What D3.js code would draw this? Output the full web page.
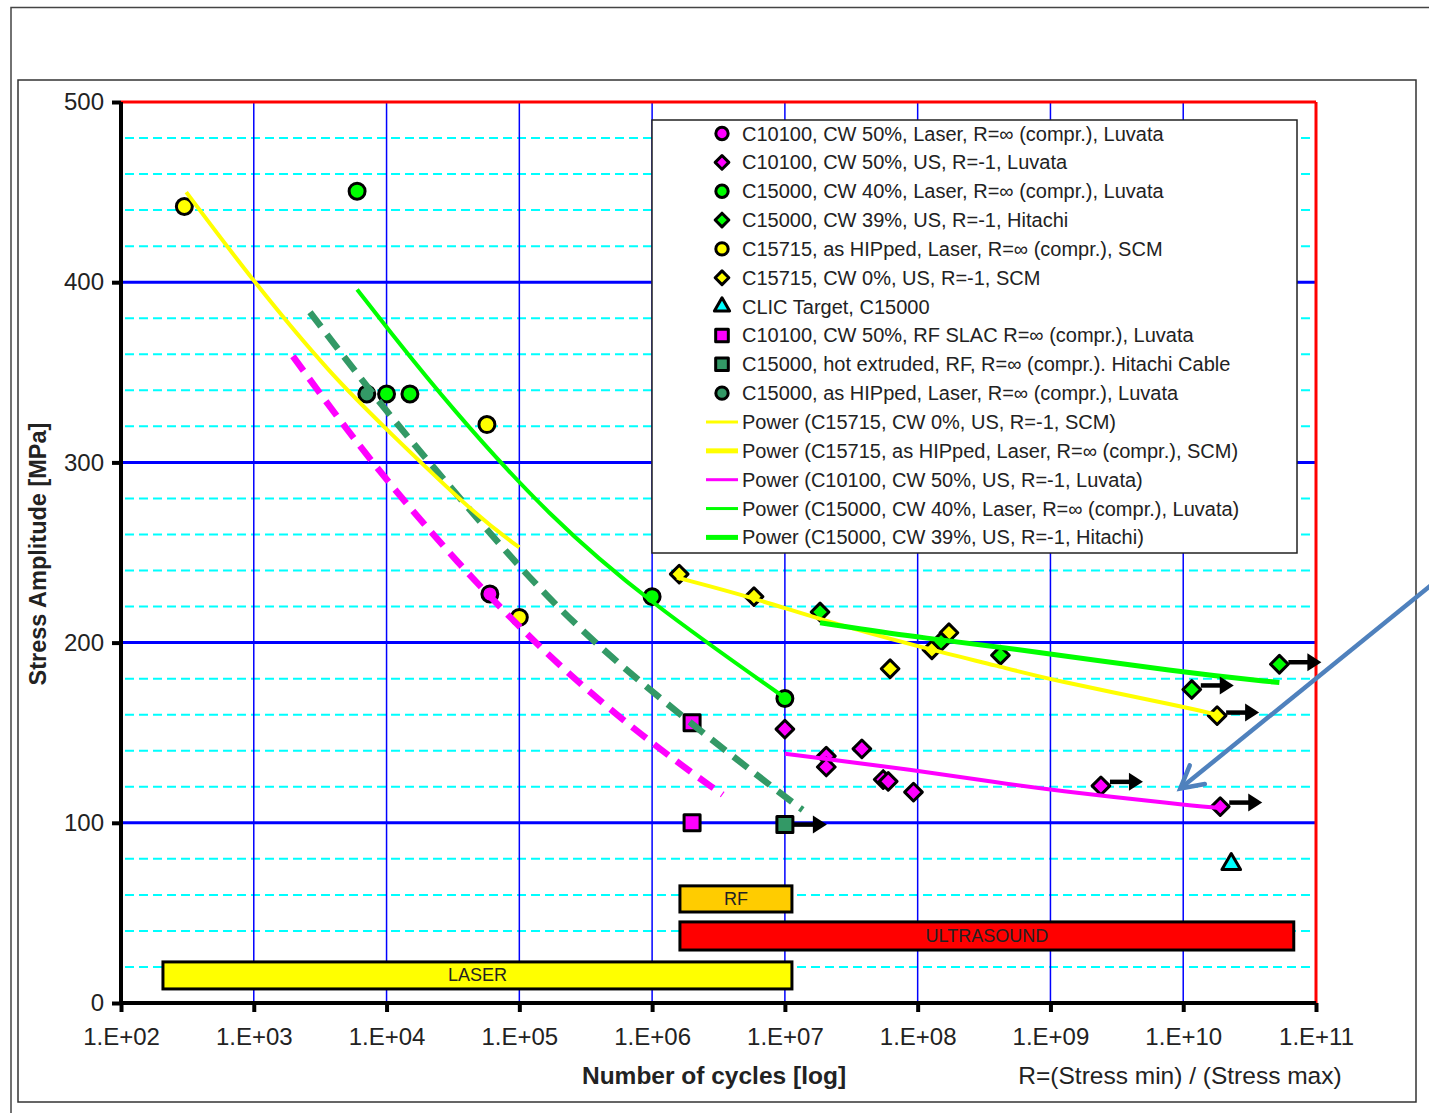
<!DOCTYPE html>
<html>
<head>
<meta charset="utf-8">
<script src="https://cdn.jsdelivr.net/npm/d3@7"></script>
<style>
  body { margin: 0; background: #fff; }
  svg text { font-family: "Liberation Sans", Arial, sans-serif; fill: #222; }
</style>
</head>
<body>
<div id="chart"></div>
<script>
// ---- data ----
const decades = [2, 3, 4, 5, 6, 7, 8, 9, 10, 11];
const stressTicks = [0, 100, 200, 300, 400, 500];
const minorTicks = d3.range(20, 500, 20).filter(v => v % 100 != 0);

// [cycles, stress MPa]
const c10100Laser = [[6e4, 227]];
const c10100US = [[1e7, 152], [2.05e7, 137], [2.05e7, 131], [3.8e7, 141], [5.5e7, 124], [6e7, 123], [9.3e7, 117], [2.4e9, 120.5], [1.9e10, 109]];
const c15000Laser = [[6e3, 450.5], [1e4, 338], [1.5e4, 338], [1e6, 225.5], [1e7, 169]];
const c15000US = [[1.84e7, 217], [1.5e8, 200.5], [4.2e8, 193], [1.16e10, 174], [5.3e10, 188]];
const c15715Laser = [[3e2, 442], [5.7e4, 321], [1e5, 214]];
const c15715US = [[1.6e6, 238], [5.85e6, 225.5], [6.2e7, 185.5], [1.28e8, 196], [1.72e8, 205.5], [1.8e10, 159.5]];
const clicTarget = [[2.3e10, 77]];
const c10100RF = [[2e6, 155.5], [2e6, 100]];
const c15000RF = [[1e7, 99]];
const c15000Hip = [[7.1e3, 338]];

// run-outs (no failure) -> arrows: [cycles, stress, pixel shift up/down]
const runouts = [[1e7, 99, 0], [2.4e9, 120.5, -4], [1.9e10, 109, -4], [1.8e10, 159.5, -3], [1.16e10, 174, -4], [5.3e10, 188, -2]];

// trend lines (power fits)
const trendYellowHip = [[3.1e2, 450], [1e3, 400], [3.9e3, 347.8], [1e4, 318.3], [4.8e4, 270], [1e5, 252.8]];
const trendYellowUS = [[1.54e6, 236.1], [5.7e6, 225], [1.84e7, 212.8], [1e8, 197.8], [4.2e8, 186.7], [1e9, 179.4], [1e10, 164.4], [1.79e10, 160]];
const trendMagentaUS = [[1e7, 138.3], [1e8, 129], [4.2e8, 122.2], [1e9, 118.3], [1e10, 110], [1.8e10, 108.3]];
const trendGreenLaser = [[6e3, 396], [1e4, 375], [3e4, 331], [1.7e5, 269.4], [9.6e5, 222.2], [1e7, 169.4]];
const trendGreenUS = [[1.84e7, 211], [1e8, 202.8], [4.2e8, 197.8], [1e10, 183.3], [5.3e10, 177.8]];
const trendMagentaDash = [[1.97e3, 358.9], [1e4, 287.8], [1.2e5, 200], [9.6e5, 144.4], [3.4e6, 115.6]];
const trendGreenDash = [[2.65e3, 383.3], [1e4, 327.8], [3e4, 286.7], [1.6e5, 223.9], [9.6e5, 172.8], [1e7, 114.4], [1.36e7, 107.2]];

// test method ranges: [label, Nmin, Nmax, Slow, Shigh, fill]
const methodBars = [
  ["RF", 1.62e6, 1.13e7, 50.5, 65, "#ffcc00"],
  ["ULTRASOUND", 1.62e6, 6.8e10, 29.4, 45, "#ff0000"],
  ["LASER", 207, 1.13e7, 7.8, 22.8, "#ffff00"]
];

const legendMarkers = [
  ["circle", "#ff00ff", "C10100, CW 50%, Laser, R=\u221e (compr.), Luvata"],
  ["diamond", "#ff00ff", "C10100, CW 50%, US, R=-1, Luvata"],
  ["circle", "#00ff00", "C15000, CW 40%, Laser, R=\u221e (compr.), Luvata"],
  ["diamond", "#00ff00", "C15000, CW 39%, US, R=-1, Hitachi"],
  ["circle", "#ffff00", "C15715, as HIPped, Laser, R=\u221e (compr.), SCM"],
  ["diamond", "#ffff00", "C15715, CW 0%, US, R=-1, SCM"],
  ["triangle", "#00ffff", "CLIC Target, C15000"],
  ["square", "#ff00ff", "C10100, CW 50%, RF SLAC R=\u221e (compr.), Luvata"],
  ["square", "#339966", "C15000, hot extruded, RF, R=\u221e (compr.). Hitachi Cable"],
  ["circle", "#339966", "C15000, as HIPped, Laser, R=\u221e (compr.), Luvata"]
];
const legendLines = [
  ["#ffff00", 3, "Power (C15715, CW 0%, US, R=-1, SCM)"],
  ["#ffff00", 5, "Power (C15715, as HIPped, Laser, R=\u221e (compr.), SCM)"],
  ["#ff00ff", 3, "Power (C10100, CW 50%, US, R=-1, Luvata)"],
  ["#00ff00", 3, "Power (C15000, CW 40%, Laser, R=\u221e (compr.), Luvata)"],
  ["#00ff00", 5, "Power (C15000, CW 39%, US, R=-1, Hitachi)"]
];

// ---- layout ----
const W = 1429, H = 1113;
const svg = d3.select("#chart").append("svg").attr("width", W).attr("height", H);

const x = d3.scaleLog().domain([1e2, 1e11]).range([121, 1316]);
const y = d3.scaleLinear().domain([0, 500]).range([1003, 102]);

// frames
svg.append("path").attr("d", "M11,1113 V7.5 H1429").attr("fill", "none").attr("stroke", "#444").attr("stroke-width", 1.5);
svg.append("rect").attr("x", 18).attr("y", 80).attr("width", 1398).attr("height", 1022)
  .attr("fill", "#fff").attr("stroke", "#333").attr("stroke-width", 1.5);

const grid = svg.append("g");
grid.selectAll("line.minor").data(minorTicks).join("line")
  .attr("x1", x(1e2) + 4).attr("x2", x(1e11)).attr("y1", d => y(d)).attr("y2", d => y(d))
  .attr("stroke", "#00ffff").attr("stroke-width", 2).attr("stroke-dasharray", "9,5");
grid.selectAll("line.vert").data(decades.slice(1, -1)).join("line")
  .attr("x1", d => x(Math.pow(10, d))).attr("x2", d => x(Math.pow(10, d)))
  .attr("y1", y(500)).attr("y2", y(0))
  .attr("stroke", "#0000ff").attr("stroke-width", 1.5);
grid.selectAll("line.major").data([100, 200, 300, 400]).join("line")
  .attr("x1", x(1e2)).attr("x2", x(1e11)).attr("y1", d => y(d)).attr("y2", d => y(d))
  .attr("stroke", "#0000ff").attr("stroke-width", 3);
grid.append("line").attr("x1", x(1e2)).attr("x2", x(1e11)).attr("y1", y(500)).attr("y2", y(500))
  .attr("stroke", "#ff0000").attr("stroke-width", 3);
grid.append("line").attr("x1", x(1e11)).attr("x2", x(1e11)).attr("y1", y(500)).attr("y2", y(0))
  .attr("stroke", "#ff0000").attr("stroke-width", 3);

// method bars
const bars = svg.append("g");
methodBars.forEach(b => {
  bars.append("rect")
    .attr("x", x(b[1])).attr("y", y(b[4]))
    .attr("width", x(b[2]) - x(b[1])).attr("height", y(b[3]) - y(b[4]))
    .attr("fill", b[5]).attr("stroke", "#000").attr("stroke-width", 3);
  bars.append("text")
    .attr("x", (x(b[1]) + x(b[2])) / 2).attr("y", (y(b[3]) + y(b[4])) / 2 + 6)
    .attr("text-anchor", "middle").style("font-size", "18px").text(b[0]);
});

// axes
const xAxis = svg.append("g").attr("transform", "translate(0," + y(0) + ")")
  .call(d3.axisBottom(x).tickValues(decades.map(d => Math.pow(10, d)))
    .tickFormat(d => "1.E+" + d3.format("02d")(Math.round(Math.log10(d))))
    .tickSize(9).tickPadding(16));
const yAxis = svg.append("g").attr("transform", "translate(" + x(1e2) + ",0)")
  .call(d3.axisLeft(y).tickValues(stressTicks).tickSize(9).tickPadding(8));
[xAxis, yAxis].forEach(a => {
  a.select(".domain").attr("stroke", "#000").attr("stroke-width", 4);
  a.selectAll(".tick line").attr("stroke", "#000").attr("stroke-width", 4);
  a.selectAll(".tick text").style("font-size", "24px").attr("fill", "#222");
});
xAxis.select(".domain").attr("d", "M" + x(1e2) + ",0H" + x(1e11));
yAxis.select(".domain").attr("d", "M0," + y(500) + "V" + y(0));

svg.append("text").attr("transform", "translate(46," + 554 + ") rotate(-90)")
  .attr("text-anchor", "middle").style("font-size", "23.5px").style("font-weight", "bold")
  .text("Stress Amplitude [MPa]");
svg.append("text").attr("x", 714).attr("y", 1084).attr("text-anchor", "middle")
  .style("font-size", "24.5px").style("font-weight", "bold").text("Number of cycles [log]");
svg.append("text").attr("x", 1180).attr("y", 1084).attr("text-anchor", "middle")
  .style("font-size", "24.5px").text("R=(Stress min) / (Stress max)");

// markers
const symType = { circle: d3.symbolCircle, diamond: d3.symbolDiamond2, square: d3.symbolSquare, triangle: d3.symbolTriangle };
const sym = {
  circle: d3.symbol().type(d3.symbolCircle).size(200),
  diamond: d3.symbol().type(d3.symbolDiamond2).size(200),
  square: d3.symbol().type(d3.symbolSquare).size(256),
  triangle: d3.symbol().type(d3.symbolTriangle).size(150)
};
function drawMarkers(data, shape, fill) {
  svg.append("g").selectAll("path").data(data).join("path")
    .attr("d", sym[shape])
    .attr("transform", d => "translate(" + x(d[0]) + "," + y(d[1]) + ")")
    .attr("fill", fill).attr("stroke", "#000").attr("stroke-width", 3).attr("stroke-linejoin", "round");
}
drawMarkers(c15715US, "diamond", "#ffff00");
drawMarkers(c15000US, "diamond", "#00ff00");
drawMarkers(c10100US, "diamond", "#ff00ff");
drawMarkers(c10100RF, "square", "#ff00ff");
drawMarkers(c15000RF, "square", "#339966");
drawMarkers(clicTarget, "triangle", "#00ffff");
drawMarkers(c10100Laser, "circle", "#ff00ff");
drawMarkers(c15000Laser, "circle", "#00ff00");
drawMarkers(c15715Laser, "circle", "#ffff00");
drawMarkers(c15000Hip, "circle", "#339966");

// trend lines
const line = d3.line().x(d => x(d[0])).y(d => y(d[1])).curve(d3.curveBasis);
function drawTrend(data, color, width, dash) {
  const p = svg.append("path").datum(data).attr("d", line)
    .attr("fill", "none").attr("stroke", color).attr("stroke-width", width);
  if (dash) p.attr("stroke-dasharray", dash);
}
drawTrend(trendMagentaDash, "#ff00ff", 6.5, "18,10");
drawTrend(trendGreenDash, "#339966", 6.5, "18,10");
drawTrend(trendYellowHip, "#ffff00", 4);
drawTrend(trendYellowUS, "#ffff00", 4);
drawTrend(trendMagentaUS, "#ff00ff", 4);
drawTrend(trendGreenLaser, "#00ff00", 4);
drawTrend(trendGreenUS, "#00ff00", 5);

// run-out arrows
const arr = svg.append("g");
runouts.forEach(r => {
  const px = x(r[0]), py = y(r[1]) + r[2];
  arr.append("line").attr("x1", px + 9).attr("x2", px + 30).attr("y1", py).attr("y2", py)
    .attr("stroke", "#000").attr("stroke-width", 4.5);
  arr.append("path").attr("d", "M" + (px + 28) + "," + (py - 9) + "L" + (px + 42) + "," + py + "L" + (px + 28) + "," + (py + 9) + "Z")
    .attr("fill", "#000");
});

// legend
const lg = svg.append("g");
lg.append("rect").attr("x", 652).attr("y", 120).attr("width", 645).attr("height", 433)
  .attr("fill", "#fff").attr("stroke", "#222").attr("stroke-width", 1.5);
const rowY = i => 133.5 + i * 28.85;
legendMarkers.forEach((m, i) => {
  lg.append("path").attr("d", d3.symbol().type(symType[m[0]])
      .size({circle: 120, diamond: 120, square: 160, triangle: 100}[m[0]]))
    .attr("transform", "translate(722," + rowY(i) + ")")
    .attr("fill", m[1]).attr("stroke", "#000").attr("stroke-width", 3).attr("stroke-linejoin", "round");
  lg.append("text").attr("x", 742).attr("y", rowY(i) + 7).style("font-size", "20px").text(m[2]);
});
legendLines.forEach((l, j) => {
  const i = j + legendMarkers.length;
  lg.append("line").attr("x1", 706).attr("x2", 738).attr("y1", rowY(i)).attr("y2", rowY(i))
    .attr("stroke", l[0]).attr("stroke-width", l[1]);
  lg.append("text").attr("x", 742).attr("y", rowY(i) + 7).style("font-size", "20px").text(l[2]);
});

// callout arrow pointing at the magenta US fit
const calloutTail = [7.4e11, 232], calloutTip = [9.5e9, 119];
const tx = x(calloutTail[0]), ty = y(calloutTail[1]), hx = x(calloutTip[0]), hy = y(calloutTip[1]);
const ang = Math.atan2(ty - hy, tx - hx);
const armL = 25, spread = 0.5;
svg.append("line").attr("x1", tx).attr("y1", ty).attr("x2", hx).attr("y2", hy)
  .attr("stroke", "#4f81bd").attr("stroke-width", 4.5);
svg.append("path")
  .attr("d", "M" + (hx + armL * Math.cos(ang - spread)) + "," + (hy + armL * Math.sin(ang - spread)) +
    "L" + hx + "," + hy + "L" + (hx + armL * Math.cos(ang + spread)) + "," + (hy + armL * Math.sin(ang + spread)))
  .attr("fill", "none").attr("stroke", "#4f81bd").attr("stroke-width", 4.5).attr("stroke-linecap", "round");
</script>
</body>
</html>
